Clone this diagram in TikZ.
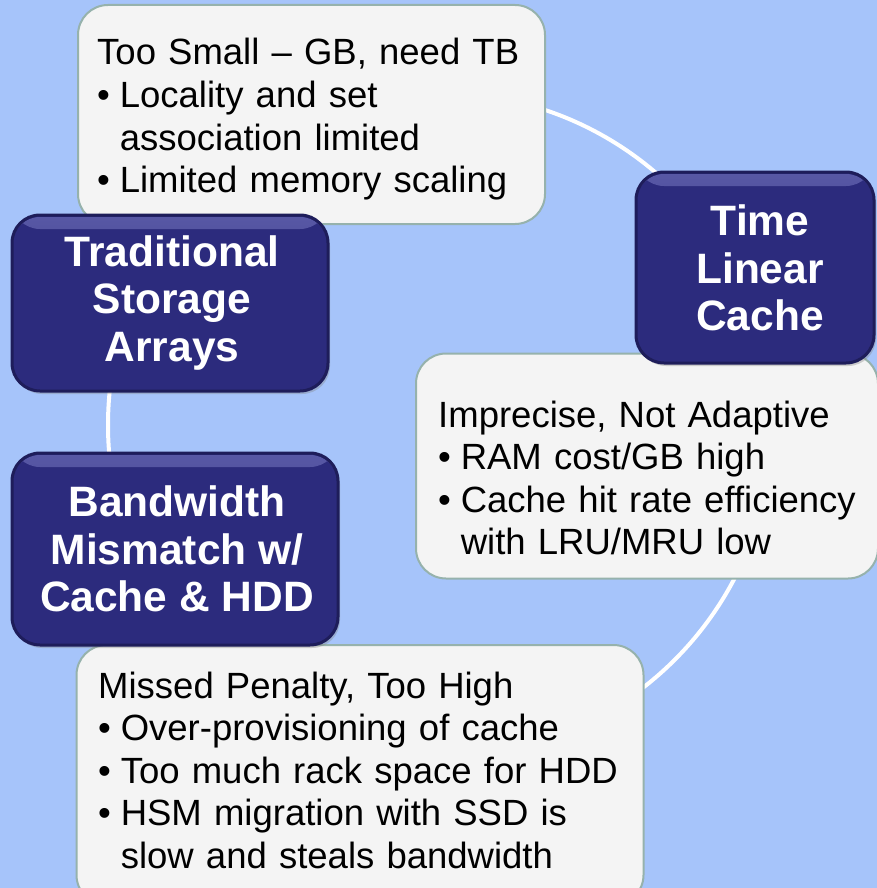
\documentclass[tikz,border=0pt]{standalone}
\usepackage{fontspec}
\setmainfont{Liberation Sans}
\usetikzlibrary{shadows}
\definecolor{bgblue}{RGB}{166,196,250}
\definecolor{navy}{RGB}{44,43,125}
\definecolor{navyedge}{RGB}{30,29,90}
\definecolor{navylight}{RGB}{88,88,165}
\definecolor{cardfill}{RGB}{244,244,244}
\definecolor{cardedge}{RGB}{150,178,172}

\newcommand{\bul}{\makebox[0.62em][l]{\textbullet}}
\newcommand{\cont}{\hspace*{0.62em}}

\begin{document}
\begin{tikzpicture}[x=1pt,y=-1pt,
  card/.style={draw=cardedge, fill=cardfill, line width=2pt, rounded corners=30pt, inner sep=0pt},
  cardtext/.style={anchor=base west, inner sep=0pt, align=left, text width=520pt,
    font=\fontsize{36.5}{42.6}\selectfont},
  navybox/.style={draw=navyedge, fill=navy, line width=3pt, rounded corners=28pt, inner sep=0pt,
    drop shadow={opacity=0.35, shadow xshift=2pt, shadow yshift=-3pt},
    path picture={
      \shade[top color=navylight, bottom color=navy]
        ([yshift=-2pt]path picture bounding box.north west)
        rectangle ([yshift=-14pt]path picture bounding box.north east);}},
  navytext/.style={text=white, align=center, inner sep=0pt,
    font=\bfseries\fontsize{42.5}{47.5}\selectfont}]

% background and frame of the picture
\fill[bgblue] (0,0) rectangle (877,888);
\useasboundingbox (0,0) rectangle (877,888);

% the ring that links the five stages
\coordinate (ringc) at (440,425);
\draw[white, line width=4pt] (ringc) circle[radius=332pt];

% light cards with the problem lists
\node[card, minimum width=467pt, minimum height=219pt] (smallcard) at (311.5,114.5) {};
\node[cardtext] (smalltext) at (97,65)
  {Too Small – GB, need TB\\
   \bul Locality and set\\
   \cont association limited\\
   \bul Limited memory scaling};

\node[card, minimum width=462pt, minimum height=225pt] (impcard) at (647,466) {};
\node[cardtext] (imptext) at (438,427)
  {Imprecise, Not Adaptive\\
   \bul RAM cost/GB high\\
   \bul Cache hit rate efficiency\\
   \cont with LRU/MRU low};

\node[card, minimum width=567pt, minimum height=260pt] (misscard) at (360,775) {};
\node[cardtext] (misstext) at (98,698)
  {Missed Penalty, Too High\\
   \bul Over-provisioning of cache\\
   \bul Too much rack space for HDD\\
   \bul HSM migration with SSD is\\
   \cont slow and steals bandwidth};

% dark stage boxes
\node[navybox, minimum width=316pt, minimum height=176pt] (tradbox) at (170,303) {};
\node[navytext] (tradtext) at (172,303) {Traditional\\Storage\\Arrays};

\node[navybox, minimum width=238pt, minimum height=191pt] (timebox) at (755,267.5) {};
\node[navytext] (timetext) at (760,268) {Time\\Linear\\Cache};

\node[navybox, minimum width=326pt, minimum height=192pt] (bandbox) at (175,549) {};
\node[navytext] (bandtext) at (177,549) {Bandwidth\\Mismatch w/\\Cache \& HDD};
\end{tikzpicture}
\end{document}
